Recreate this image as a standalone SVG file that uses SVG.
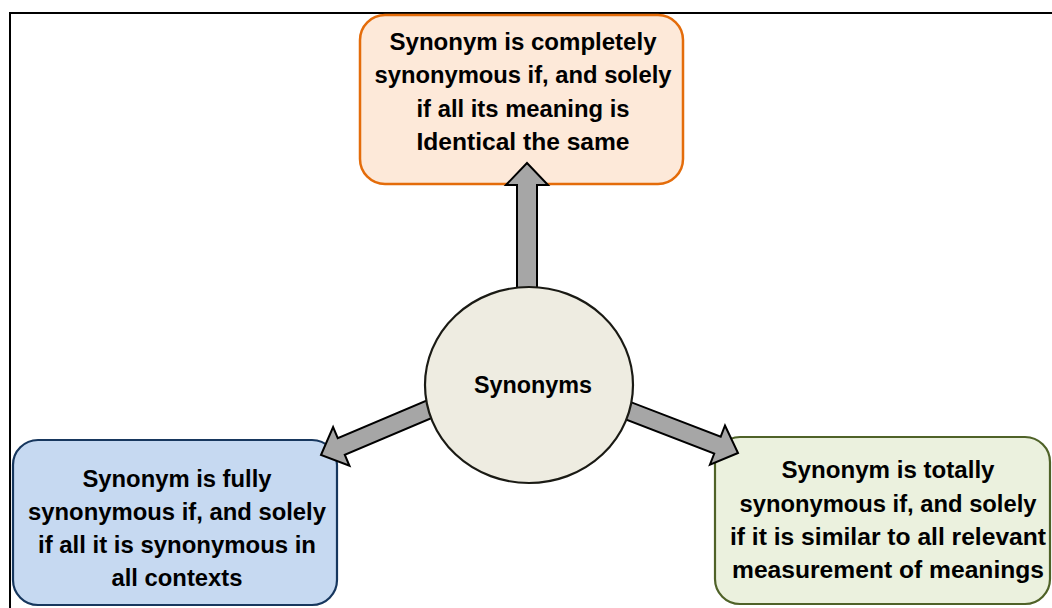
<svg xmlns="http://www.w3.org/2000/svg" width="1052" height="608" viewBox="0 0 1052 608">
<style>
.t{font-family:"Liberation Sans",Arial,sans-serif;font-weight:bold;font-size:23px;fill:#000;text-anchor:middle}
.arrow{fill:#A6A6A6;stroke:#000;stroke-width:2;stroke-linejoin:miter}
</style>
<rect x="0" y="0" width="1052" height="608" fill="#fff"/>
<path d="M10,620 L10,13 L1060,13" fill="none" stroke="#000" stroke-width="2"/>
<g id="node-top">
<rect x="360" y="15" width="323" height="169" rx="25" fill="#FDE9D9" stroke="#E46C0A" stroke-width="2.5"/>
<text class="t" x="523" y="50" textLength="267" lengthAdjust="spacingAndGlyphs">Synonym is completely</text>
<text class="t" x="523" y="83" textLength="297" lengthAdjust="spacingAndGlyphs">synonymous if, and solely</text>
<text class="t" x="523" y="117" textLength="213" lengthAdjust="spacingAndGlyphs">if all its meaning is</text>
<text class="t" x="523" y="150" textLength="213" lengthAdjust="spacingAndGlyphs">Identical the same</text>
</g>
<g id="node-left">
<rect x="13" y="440" width="324" height="165" rx="25" fill="#C6D9F1" stroke="#17375E" stroke-width="2.2"/>
<text class="t" x="177" y="487" textLength="189" lengthAdjust="spacingAndGlyphs">Synonym is fully</text>
<text class="t" x="177" y="520" textLength="298" lengthAdjust="spacingAndGlyphs">synonymous if, and solely</text>
<text class="t" x="177" y="553" textLength="278" lengthAdjust="spacingAndGlyphs">if all it is synonymous in</text>
<text class="t" x="177" y="586" textLength="131" lengthAdjust="spacingAndGlyphs">all contexts</text>
</g>
<g id="node-right">
<rect x="715" y="437" width="335" height="167" rx="25" fill="#EBF1DE" stroke="#4F6228" stroke-width="2.2"/>
<text class="t" x="888" y="478" textLength="213" lengthAdjust="spacingAndGlyphs">Synonym is totally</text>
<text class="t" x="888" y="512" textLength="297" lengthAdjust="spacingAndGlyphs">synonymous if, and solely</text>
<text class="t" x="888" y="545" textLength="316" lengthAdjust="spacingAndGlyphs">if it is similar to all relevant</text>
<text class="t" x="888" y="578" textLength="312" lengthAdjust="spacingAndGlyphs">measurement of meanings</text>
</g>
<g id="connectors">
<polygon class="arrow" points="517,292 517,185 506,185 527,163 548,185 537,185 537,292"/>
<polygon class="arrow" transform="translate(321,455) rotate(-22.9)" points="0,0 22,-21 22,-9 130,-9 130,9 22,9 22,21"/>
<polygon class="arrow" transform="translate(738,453) rotate(-158.96)" points="0,0 22,-21 22,-9 130,-9 130,9 22,9 22,21"/>
</g>
<g id="node-center">
<ellipse cx="529" cy="385" rx="104" ry="98" fill="#EEECE1" stroke="#1A1A14" stroke-width="2.2"/>
<text class="t" x="533" y="393" textLength="118" lengthAdjust="spacingAndGlyphs">Synonyms</text>
</g>
</svg>
